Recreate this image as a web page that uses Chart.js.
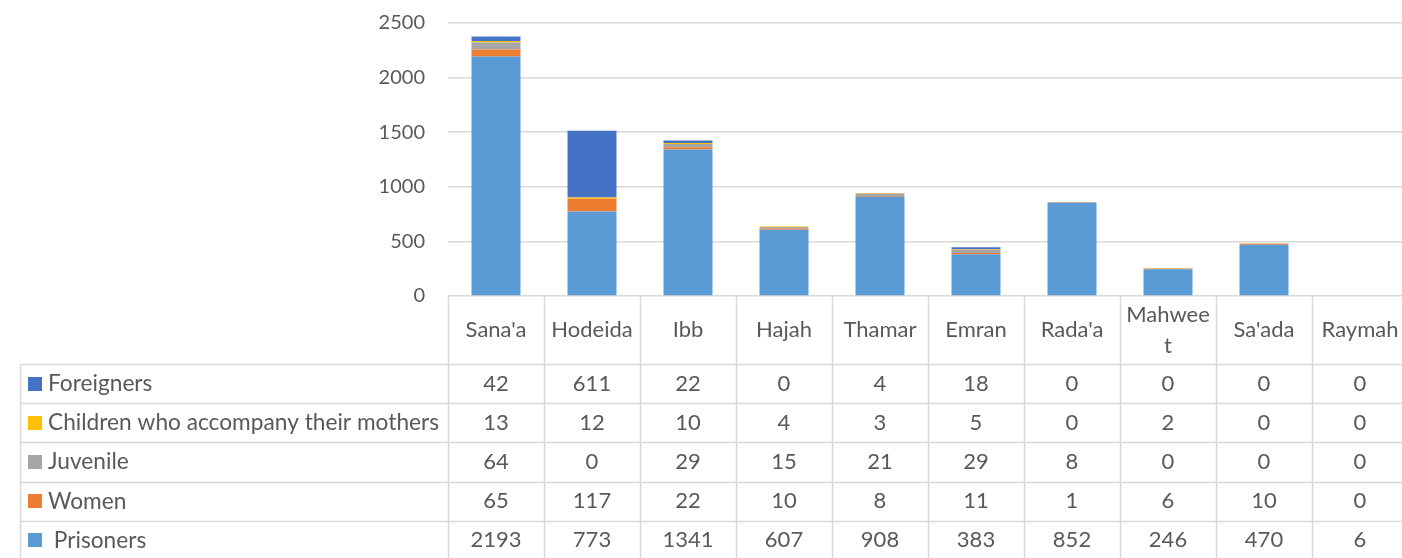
<!DOCTYPE html>
<html>
<head>
<meta charset="utf-8">
<script src="https://cdn.jsdelivr.net/npm/chart.js@4/dist/chart.umd.min.js"></script>
<style>
  html, body { margin: 0; padding: 0; background: #fff; overflow: hidden; }
  #wrap { width: 1408px; height: 558px; }
</style>
</head>
<body>
<div id="wrap"><canvas id="c" width="1408" height="558"></canvas></div>
<script>
const categories = ["Sana'a", "Hodeida", "Ibb", "Hajah", "Thamar", "Emran", "Rada'a", "Mahweet", "Sa'ada", "Raymah"];
const headerLabels = [["Sana'a"], ["Hodeida"], ["Ibb"], ["Hajah"], ["Thamar"], ["Emran"], ["Rada'a"], ["Mahwee", "t"], ["Sa'ada"], ["Raymah"]];
const seriesNames = ["Prisoners", "Women", "Juvenile", "Children who accompany their mothers", "Foreigners"];
const seriesColors = ["#5B9BD5", "#ED7D31", "#A5A5A5", "#FFC000", "#4472C4"];
const prisoners = [2193, 773, 1341, 607, 908, 383, 852, 246, 470, 6];
const women = [65, 117, 22, 10, 8, 11, 1, 6, 10, 0];
const juvenile = [64, 0, 29, 15, 21, 29, 8, 0, 0, 0];
const children = [13, 12, 10, 4, 3, 5, 0, 2, 0, 0];
const foreigners = [42, 611, 22, 0, 4, 18, 0, 0, 0, 0];
const yTicks = [0, 500, 1000, 1500, 2000, 2500];

const seriesValues = [prisoners, women, juvenile, children, foreigners];
const FONT = "Lato, 'Open Sans', sans-serif";
const TEXT = "#595959";
const LINE = "#d9d9d9";

const tablePlugin = {
  id: 'dataTable',
  afterDraw(chart) {
    const ctx = chart.ctx;
    const x = chart.scales.x;
    const area = chart.chartArea;
    const n = categories.length;
    const colW = (area.right - area.left) / n;
    const top = area.bottom;
    const headerH = 68;
    const rowH = 39.2;
    const tableLeft = 20;
    const rows = seriesNames.length;
    const bottom = top + headerH + rows * rowH;
    ctx.save();
    ctx.strokeStyle = LINE;
    ctx.lineWidth = 1.5;
    for (let i = 0; i <= n; i++) {
      const px = Math.round(area.left + i * colW) + 0.5;
      ctx.beginPath();
      ctx.moveTo(px, top);
      ctx.lineTo(px, bottom);
      ctx.stroke();
    }
    ctx.beginPath();
    ctx.moveTo(tableLeft + 0.5, top + headerH);
    ctx.lineTo(tableLeft + 0.5, bottom);
    ctx.stroke();
    for (let r = 0; r <= rows; r++) {
      const py = Math.round(top + headerH + r * rowH) + 0.5;
      ctx.beginPath();
      ctx.moveTo(tableLeft, py);
      ctx.lineTo(area.right, py);
      ctx.stroke();
    }
    ctx.fillStyle = TEXT;
    ctx.font = "22px " + FONT;
    ctx.textAlign = "center";
    ctx.textBaseline = "middle";
    for (let i = 0; i < n; i++) {
      const cx = x.getPixelForValue(i);
      const lines = headerLabels[i];
      if (lines.length === 1) {
        ctx.fillText(lines[0], cx, top + headerH / 2);
      } else {
        ctx.fillText(lines[0], cx, top + 19);
        ctx.fillText(lines[1], cx, top + 50);
      }
    }
    for (let r = 0; r < rows; r++) {
      const s = rows - 1 - r;
      const cy = top + headerH + r * rowH + rowH / 2;
      ctx.fillStyle = seriesColors[s];
      ctx.fillRect(28, Math.round(cy - 7), 14, 14);
      ctx.fillStyle = TEXT;
      ctx.textAlign = "left";
      ctx.font = "22.7px " + FONT;
      const label = s === 0 ? " " + seriesNames[s] : seriesNames[s];
      ctx.fillText(label, 48, cy);
      ctx.font = "22px " + FONT;
      ctx.textAlign = "center";
      for (let i = 0; i < n; i++) {
        ctx.fillText(String(seriesValues[s][i]), x.getPixelForValue(i), cy);
      }
    }
    ctx.restore();
  }
};

new Chart(document.getElementById('c'), {
  type: 'bar',
  data: {
    labels: categories,
    datasets: seriesNames.map((name, i) => ({
      label: name,
      data: seriesValues[i],
      backgroundColor: seriesColors[i],
      borderWidth: 0,
      categoryPercentage: 1,
      barPercentage: 0.51
    }))
  },
  options: {
    responsive: false,
    animation: false,
    layout: { padding: { top: 23, right: 0, bottom: 262, left: 0 } },
    plugins: { legend: { display: false }, tooltip: { enabled: false } },
    scales: {
      x: { stacked: true, display: false },
      y: {
        stacked: true,
        min: 0,
        max: 2500,
        afterBuildTicks(scale) { scale.ticks = yTicks.map(v => ({ value: v })); },
        afterFit(scale) { scale.width = 448; },
        border: { display: false },
        grid: { color: LINE, lineWidth: 1.5, drawTicks: true, tickLength: 21, tickColor: 'rgba(0,0,0,0)' },
        ticks: { color: TEXT, font: { family: FONT, size: 20 }, padding: 2, callback: (v) => String(v) }
      }
    }
  },
  plugins: [tablePlugin]
});
</script>
</body>
</html>
